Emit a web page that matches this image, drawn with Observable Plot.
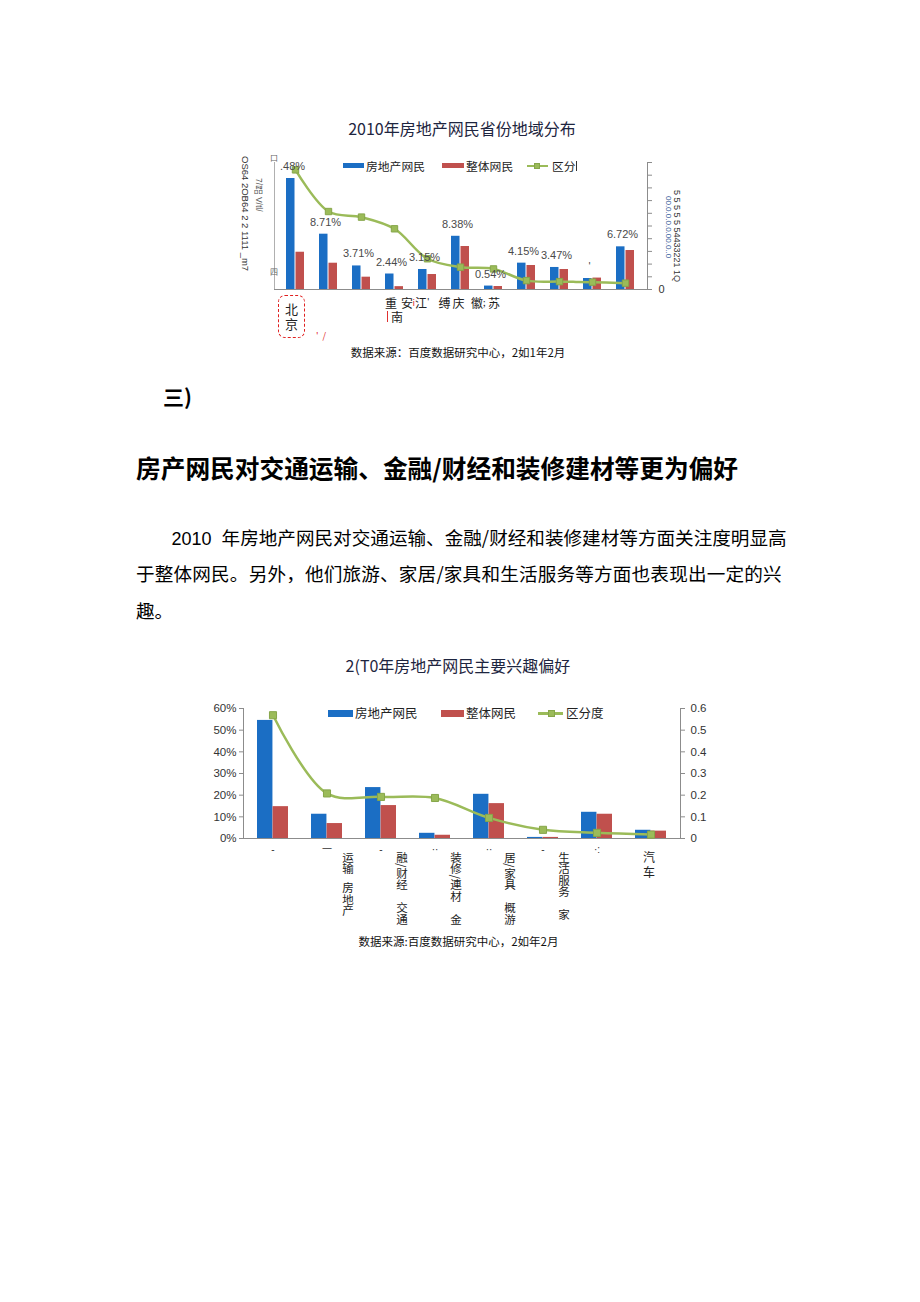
<!DOCTYPE html>
<html><head><meta charset="utf-8">
<script src="https://cdn.jsdelivr.net/npm/d3@7"></script>
<script src="https://cdn.jsdelivr.net/npm/@observablehq/plot@0.6"></script>
<style>
html,body{margin:0;padding:0;background:#fff;}
body{width:920px;height:1302px;position:relative;overflow:hidden;font-family:"Noto Sans CJK SC","Noto Sans",sans-serif;color:#000;}
.abs{position:absolute;white-space:pre;line-height:1;}
.ctr{text-align:center;}
.vr{writing-mode:vertical-rl;}
</style></head><body>
<script>
// ---------- Chart 1 data ----------
const provinces = ["北京","省份2","省份3","省份4","省份5","省份6","省份7","省份8","省份9","省份10","省份11"];
const realEstate1 = [17.48, 8.71, 3.71, 2.44, 3.15, 8.38, 0.54, 4.15, 3.47, 1.73, 6.72];
const overall1 = [5.87, 4.14, 1.94, 0.45, 2.36, 6.77, 0.47, 3.78, 3.15, 1.8, 6.14];
const distinct1 = [0.471, 0.307, 0.285, 0.239, 0.121, 0.088, 0.081, 0.035, 0.031, 0.029, 0.025];
const labels1 = [".48%", "8.71%", "3.71%", "2.44%", "3.15%", "8.38%", "0.54%", "4.15%", "3.47%", "'", "6.72%"];
const rightTicks1 = [0, 0.05, 0.1, 0.15, 0.2, 0.25, 0.3, 0.35, 0.4, 0.45, 0.5];

// ---------- Chart 2 data ----------
const interests = ["房地产","交通运输","金融/财经","装修/建材","旅游","家居/家具","生活服务","汽车"];
const realEstate2 = [54.5, 11.2, 23.5, 2.4, 20.4, 0.5, 12.1, 3.8];
const overall2 = [14.7, 6.9, 15.2, 1.5, 16.1, 0.5, 11.2, 3.4];
const distinct2 = [0.569, 0.208, 0.192, 0.187, 0.095, 0.04, 0.026, 0.018];
const leftTicks2 = [0, 10, 20, 30, 40, 50, 60];
const rightTicks2 = [0, 0.1, 0.2, 0.3, 0.4, 0.5, 0.6];
const tickMarks2 = ["-", "一", "-", "··", "··", "-", "·:", ""];
const sideLabels2 = ["", "运输   房地产", "融/财经　交通", "装修/連材　金", "居/家具　概游", "生活服务　家", "", ""];
const centerLabels2 = ["", "", "", "", "", "", "", "汽 车"];

const BLUE = "#1b6ec4", RED = "#c0504d", GREEN = "#9bbb59", AXIS = "#8c8c8c";

function place(el, left, top){
  const d = document.createElement("div");
  d.className = "abs"; d.style.left = left + "px"; d.style.top = top + "px";
  d.appendChild(el); document.body.appendChild(d); return d;
}
function html(s){ const t = document.createElement("div"); t.innerHTML = s; document.body.appendChild(t.firstElementChild); }

// ---------- Chart 1 ----------
{
  const W = 470, H = 145, ml = 44, mr = 53, mt = 12, mb = 6;
  const pi = 0.44;
  const step = (W - ml - mr) / provinces.length, bw = step * (1 - pi);
  const k = 20 / 0.5; // right-axis value -> left scale
  const data = provinces.map((c, i) => ({c, a: realEstate1[i], b: overall1[i], g: distinct1[i], lab: labels1[i]}));
  const chart = Plot.plot({
    width: W, height: H, marginLeft: ml, marginRight: mr, marginTop: mt, marginBottom: mb,
    style: {fontFamily: "'Liberation Sans','Noto Sans CJK SC',sans-serif", fontSize: "11px", background: "transparent", overflow: "visible", color: "#404040"},
    x: {type: "band", domain: provinces, paddingInner: pi, paddingOuter: pi / 2, axis: null},
    y: {domain: [0, 20], axis: null},
    marks: [
      Plot.frame({anchor: "left", stroke: "#b0b0b0"}),
      Plot.frame({anchor: "right", stroke: AXIS}),
      Plot.axisY({anchor: "right", ticks: rightTicks1.map(v => v * k), tickSize: 4, tickPadding: 7, stroke: AXIS, fill: "#333", fontSize: 11,
        tickFormat: d => d === 0 ? "0" : "", label: null}),
      Plot.barY(data, {x: "c", y: "a", fill: BLUE, insetRight: bw / 2}),
      Plot.barY(data, {x: "c", y: "b", fill: RED, insetLeft: bw / 2}),
      Plot.ruleY([0], {stroke: AXIS}),
      Plot.line(data, {x: "c", y: d => d.g * k, stroke: GREEN, strokeWidth: 2.5, curve: "catmull-rom"}),
      Plot.dot(data, {x: "c", y: d => d.g * k, symbol: "square", r: 3.6, fill: GREEN, stroke: "#86a64a", strokeWidth: 1}),
      Plot.text(data, {x: "c", y: "a", text: "lab", dy: -12, dx: -3, fill: "#4a4a4a", fontSize: 11})
    ]
  });
  place(chart, 230, 150);
}

// ---------- Chart 2 ----------
{
  const W = 520, H = 245, ml = 43, mr = 40, mt = 13, mb = 102;
  const pi = 0.43;
  const step = (W - ml - mr) / interests.length, bw = step * (1 - pi);
  const k = 60 / 0.6;
  const data = interests.map((c, i) => ({c, a: realEstate2[i], b: overall2[i], g: distinct2[i], tm: tickMarks2[i], sl: sideLabels2[i], cl: centerLabels2[i]}));
  const chart = Plot.plot({
    width: W, height: H, marginLeft: ml, marginRight: mr, marginTop: mt, marginBottom: mb,
    style: {fontFamily: "'Liberation Sans','Noto Sans CJK SC',sans-serif", fontSize: "11.5px", background: "transparent", overflow: "visible", color: "#404040"},
    x: {type: "band", domain: interests, paddingInner: pi, paddingOuter: pi / 2, axis: null},
    y: {domain: [0, 60], axis: null},
    marks: [
      Plot.frame({anchor: "left", stroke: AXIS}),
      Plot.frame({anchor: "right", stroke: AXIS}),
      Plot.axisY({anchor: "left", ticks: leftTicks2, tickSize: 4, tickPadding: 3, stroke: AXIS, fill: "#333", fontSize: 11.5,
        tickFormat: d => d + "%", label: null}),
      Plot.axisY({anchor: "right", ticks: rightTicks2.map(v => v * k), tickSize: 4, tickPadding: 6, stroke: AXIS, fill: "#333", fontSize: 11.5,
        tickFormat: d => String(+(d / k).toFixed(1)), label: null}),
      Plot.barY(data, {x: "c", y: "a", fill: BLUE, insetRight: bw / 2}),
      Plot.barY(data, {x: "c", y: "b", fill: RED, insetLeft: bw / 2}),
      Plot.ruleY([0], {stroke: AXIS}),
      Plot.line(data, {x: "c", y: d => d.g * k, stroke: GREEN, strokeWidth: 2.5, curve: "catmull-rom"}),
      Plot.dot(data, {x: "c", y: d => d.g * k, symbol: "square", r: 4, fill: GREEN, stroke: "#86a64a", strokeWidth: 1}),
      Plot.text(data, {x: "c", text: "tm", frameAnchor: "bottom", dy: 14, fill: "#333", fontSize: 10}),
      Plot.text(data, {x: "c", text: "sl", frameAnchor: "bottom", textAnchor: "start", dy: 13, dx: 21, fill: "#222", fontSize: 11.5, fontFamily: "Noto Sans CJK SC", className: "vlab"}),
      Plot.text(data, {x: "c", text: "cl", frameAnchor: "bottom", textAnchor: "start", dy: 13, dx: -2, fill: "#222", fontSize: 12, fontFamily: "Noto Sans CJK SC", className: "vlab"})
    ]
  });
  // vertical (top-to-bottom) CJK columns, as in the reference
  d3.select(chart).selectAll(".vlab text")
    .attr("y", null).attr("dy", null)
    .style("writing-mode", "vertical-rl")
    .style("text-orientation", "mixed");
  place(chart, 200, 695);
}

// ---------- Texts, legends, page content ----------
html('<div class="abs ctr" style="left:262px;top:120px;width:400px;font-size:16px;color:#1e2540;">2010年房地产网民省份地域分布</div>');
// chart 1 legend
html('<div class="abs" style="left:343px;top:163px;width:21px;height:5px;background:' + BLUE + ';"></div>');
html('<div class="abs" style="left:366px;top:159.5px;font-size:11.8px;color:#222;">房地产网民</div>');
html('<div class="abs" style="left:442px;top:163px;width:22px;height:5px;background:' + RED + ';"></div>');
html('<div class="abs" style="left:466px;top:159.5px;font-size:11.8px;color:#222;">整体网民</div>');
html('<div class="abs" style="left:527px;top:164.5px;width:21px;height:2.5px;background:' + GREEN + ';"></div>');
html('<div class="abs" style="left:534px;top:162.5px;width:6px;height:6px;background:' + GREEN + ';border:0.8px solid #86a64a;box-sizing:border-box;"></div>');
html('<div class="abs" style="left:552px;top:159.5px;font-size:11.8px;color:#222;">区分</div>');
html('<div class="abs" style="left:576px;top:160.5px;width:1.2px;height:10px;background:#333;"></div>');
// chart 1 garbled axes text
html('<div class="abs vr" style="left:240px;top:156px;font-size:9.5px;color:#333;font-family:\'Liberation Sans\',sans-serif;">OS64 2OB64 2 2 1111 _m7</div>');
html('<div class="abs vr" style="left:254px;top:178px;font-size:8.5px;color:#555;font-family:\'Liberation Sans\',sans-serif;">品7/7   V/tl/</div>');
html('<div class="abs" style="left:270px;top:154px;font-size:8px;color:#666;">口</div>');
html('<div class="abs" style="left:270px;top:268px;font-size:8px;color:#666;">四</div>');
html('<div class="abs vr" style="left:672px;top:190px;font-size:9px;color:#333;font-family:\'Liberation Sans\',sans-serif;">5 5 5 5 5 54433221 1Q</div>');
html('<div class="abs vr" style="left:664px;top:196px;font-size:8px;color:#2f5597;font-family:\'Liberation Sans\',sans-serif;">00.0.0.0.0.00.0..0</div>');
// chart 1 category labels
html('<div class="abs" style="left:278px;top:295px;width:27px;height:43px;border:1.5px dashed #e02020;border-radius:7px;box-sizing:border-box;"></div>');
html('<div class="abs ctr" style="left:278px;top:301px;width:27px;font-size:13px;line-height:15px;color:#222;">北\n京</div>');
html('<div class="abs" style="left:316px;top:331px;font-size:9px;color:#e02020;">\'  /</div>');
html('<div class="abs" style="left:385px;top:295.5px;font-size:12px;line-height:14px;color:#222;">重</div>');
html('<div class="abs" style="left:401px;top:295.5px;font-size:12px;line-height:14px;color:#222;">安</div>');
html('<div class="abs" style="left:412.5px;top:297px;font-size:9px;line-height:12px;color:#e03030;">i</div>');
html('<div class="abs" style="left:415px;top:295.5px;font-size:12px;line-height:14px;color:#222;">江</div>');
html('<div class="abs" style="left:427px;top:295.5px;font-size:9px;line-height:12px;color:#222;">\'</div>');
html('<div class="abs" style="left:438.5px;top:295.5px;font-size:12px;line-height:14px;color:#222;">缚</div>');
html('<div class="abs" style="left:452.5px;top:295.5px;font-size:12px;line-height:14px;color:#222;">庆</div>');
html('<div class="abs" style="left:471px;top:295.5px;font-size:12px;line-height:14px;color:#222;">徽</div>');
html('<div class="abs" style="left:483px;top:297px;font-size:9px;line-height:12px;color:#222;">;</div>');
html('<div class="abs" style="left:488px;top:295.5px;font-size:12px;line-height:14px;color:#222;">苏</div>');
html('<div class="abs" style="left:386.5px;top:311px;width:1.2px;height:11px;background:#e03030;"></div>');
html('<div class="abs" style="left:391px;top:309.5px;font-size:12px;line-height:14px;color:#222;">南</div>');
html('<div class="abs ctr" style="left:258px;top:346.5px;width:400px;font-size:11.5px;color:#111;">数据来源：百度数据研究中心，2如1年2月</div>');

// section text
html('<div class="abs" style="left:163px;top:386px;font-size:21px;font-weight:bold;">三)</div>');
html('<div class="abs" style="left:136px;top:454.5px;font-size:24.7px;font-weight:bold;">房产网民对交通运输、金融/财经和装修建材等更为偏好</div>');
html('<div class="abs" style="left:171.5px;top:527.5px;font-size:18.6px;"><span style="font-family:\'Liberation Sans\',sans-serif;margin-right:10px;font-size:18px;">2010</span>年房地产网民对交通运输、金融/财经和装修建材等方面关注度明显高</div>');
html('<div class="abs" style="left:136px;top:564px;font-size:18.6px;letter-spacing:0.18px;">于整体网民。另外，他们旅游、家居/家具和生活服务等方面也表现出一定的兴</div>');
html('<div class="abs" style="left:136px;top:600.5px;font-size:18.6px;">趣。</div>');

// chart 2 title, legend, caption
html('<div class="abs ctr" style="left:258px;top:657px;width:400px;font-size:16px;color:#1e2540;">2(T0年房地产网民主要兴趣偏好</div>');
html('<div class="abs" style="left:328px;top:710px;width:25px;height:6.5px;background:' + BLUE + ';"></div>');
html('<div class="abs" style="left:355px;top:706.5px;font-size:12.5px;color:#222;">房地产网民</div>');
html('<div class="abs" style="left:441px;top:710px;width:23px;height:6.5px;background:' + RED + ';"></div>');
html('<div class="abs" style="left:466px;top:706.5px;font-size:12.5px;color:#222;">整体网民</div>');
html('<div class="abs" style="left:538px;top:712px;width:25px;height:2.5px;background:' + GREEN + ';"></div>');
html('<div class="abs" style="left:547.5px;top:709.5px;width:7px;height:7px;background:' + GREEN + ';border:0.8px solid #86a64a;box-sizing:border-box;"></div>');
html('<div class="abs" style="left:566px;top:706.5px;font-size:12.5px;color:#222;">区分度</div>');
html('<div class="abs ctr" style="left:258.5px;top:936px;width:400px;font-size:11.5px;color:#111;">数据来源:百度数据研究中心，2如年2月</div>');
</script>
</body></html>
